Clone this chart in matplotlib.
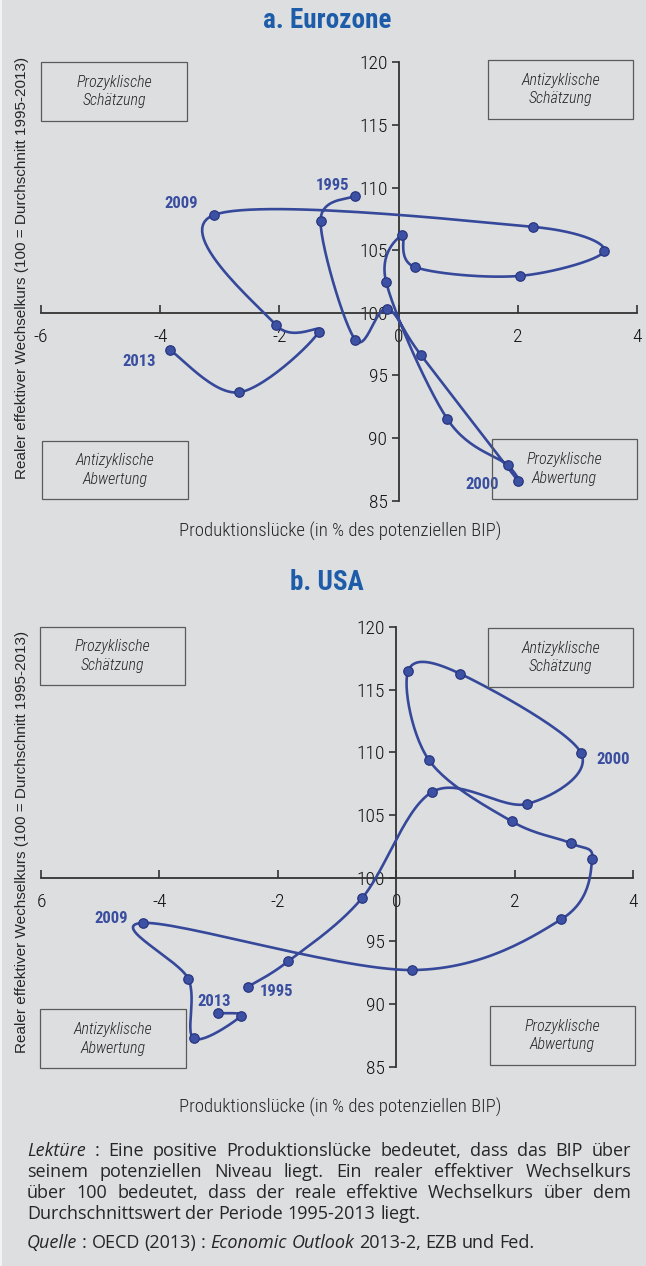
import numpy as np
import matplotlib
matplotlib.use('Agg')
import matplotlib.pyplot as plt
from matplotlib.patches import Rectangle

W, H, DPI = 646, 1266, 100

BG        = '#dcdee0'
LINE      = '#36489a'
MARK      = '#3d51a4'
MARK_EDGE = '#27367f'
TITLE     = '#1d5ca8'
YEAR      = '#3a4ea0'
AXIS      = '#333333'
TEXT      = '#262626'
BOX       = '#5a5a5a'

NARROW = ['Roboto Condensed', 'Archivo Narrow', 'DejaVu Sans']
WIDE   = ['Liberation Sans', 'DejaVu Sans']
NOTE   = ['Open Sans', 'Liberation Sans', 'DejaVu Sans']
plt.rcParams['font.family'] = NARROW

# Jahre 1995-2013
years = list(range(1995, 2014))

# Eurozone: Produktionslücke (% BIP) und realer effektiver Wechselkurs
ez_gap  = [-0.73, -1.31, -0.73, -0.20, 0.37, 2.01, 1.83, 0.82, -0.21, 0.06,
           0.28, 2.04, 3.45, 2.26, -3.10, -2.06, -1.34, -2.68, -3.83]
ez_reer = [109.35, 107.31, 97.86, 100.32, 96.66, 86.55, 87.83, 91.50, 102.48, 106.19,
           103.64, 102.95, 104.94, 106.86, 107.81, 99.04, 98.48, 93.65, 97.00]

# USA
us_gap  = [-2.51, -1.82, -0.58, 0.61, 2.21, 3.12, 1.08, 0.20, 0.55, 1.95,
           2.95, 3.31, 2.79, 0.27, -4.27, -3.51, -3.42, -2.62, -3.01]
us_reer = [91.34, 93.40, 98.39, 106.86, 105.90, 109.97, 116.26, 116.47, 109.41, 104.52,
           102.77, 101.55, 96.73, 92.69, 96.44, 91.97, 87.25, 89.04, 89.25]

x_ticks = [-6, -4, -2, 0, 2, 4]
ez_xticklabels = ['-6', '-4', '-2', '0', '2', '4']
us_xticklabels = ['6', '-4', '-2', '0', '2', '4']
y_ticks = [85, 90, 95, 100, 105, 110, 115, 120]

ez_labelled = {1995: (-23, 10), 2009: (-33, 11), 2013: (-31, -11), 2000: (-36, -3)}
us_labelled = {2000: (32, -7), 2009: (-32, 4), 1995: (29, -5), 2013: (-4, 12)}


def fx(px):
    return px / W


def fy(py):
    return 1 - py / H


def smooth_path(ax, xs, ys, n=30, limit=0.6):
    # Bezier-Glättung wie bei Excel-Linien, in Pixelkoordinaten gerechnet;
    # Kontrollpunkte werden bei kurzen Abschnitten gekürzt
    pts = ax.transData.transform(np.column_stack([xs, ys]))
    P = np.vstack([pts[0], pts, pts[-1]])
    t = np.linspace(0, 1, n)[1:, None]
    out = [pts[:1]]
    for i in range(1, len(P) - 2):
        p0, p1, p2, p3 = P[i - 1], P[i], P[i + 1], P[i + 2]
        seg = np.hypot(*(p2 - p1))
        d1 = (p2 - p0) / 6
        d2 = (p3 - p1) / 6
        for d in (d1, d2):
            n_d = np.hypot(*d)
            if n_d > limit * seg:
                d *= limit * seg / n_d
        c1, c2 = p1 + d1, p2 - d2
        out.append((1 - t) ** 3 * p1 + 3 * (1 - t) ** 2 * t * c1
                   + 3 * (1 - t) * t ** 2 * c2 + t ** 3 * p2)
    return ax.transData.inverted().transform(np.vstack(out))


def quad_box(x0, y0, x1, y1, line1, line2):
    fig.patches.append(Rectangle((fx(x0), fy(y1)), fx(x1) - fx(x0), fy(y0) - fy(y1),
                                 transform=fig.transFigure, facecolor='none',
                                 edgecolor=BOX, linewidth=0.9))
    cx, cy = (x0 + x1) / 2, (y0 + y1) / 2
    for txt, dy in ((line1, -9.5), (line2, 9.5)):
        fig.text(fx(cx), fy(cy + dy), txt, ha='center', va='center',
                 style='italic', fontweight='light', fontsize=11.5, color=TEXT)


def panel(px_box, title, title_y, gap, reer, xticklabels, labelled,
          boxes, ylab_y, xlab_y):
    left, top, right, bottom = px_box
    ax = fig.add_axes([fx(left), fy(bottom), fx(right) - fx(left), fy(top) - fy(bottom)])
    ax.set_facecolor('none')
    ax.set_xlim(-6, 4)
    ax.set_ylim(85, 120)
    for s in ['top', 'right']:
        ax.spines[s].set_visible(False)
    ax.spines['left'].set_position(('data', 0))
    ax.spines['bottom'].set_position(('data', 100))
    for s in ['left', 'bottom']:
        ax.spines[s].set_color(AXIS)
        ax.spines[s].set_linewidth(1.3)
    ax.set_xticks(x_ticks)
    ax.set_xticklabels(xticklabels, fontweight='light')
    ax.set_yticks(y_ticks)
    ax.set_yticklabels([str(v) for v in y_ticks], fontweight='light')
    ax.tick_params(axis='x', direction='in', length=6, width=1.2, pad=11,
                   labelsize=14, colors=AXIS, labelcolor='#111111')
    ax.tick_params(axis='y', direction='out', length=5, width=1.2, pad=3,
                   labelsize=14, colors=AXIS, labelcolor='#111111')

    cx, cy = smooth_path(ax, gap, reer).T
    ax.plot(cx, cy, color=LINE, linewidth=1.9, solid_capstyle='round', clip_on=False, zorder=3)
    ax.plot(gap, reer, 'o', color=MARK, markeredgecolor=MARK_EDGE, markeredgewidth=0.9,
            markersize=6.8, clip_on=False, zorder=4)

    for yr, (dx, dy) in labelled.items():
        i = years.index(yr)
        ax.annotate(str(yr), (gap[i], reer[i]), xytext=(dx, dy), textcoords='offset pixels',
                    ha='center', va='center', fontsize=12, fontweight='bold', color=YEAR)

    fig.text(fx(327), fy(title_y), title, ha='center', va='center',
             fontsize=19.5, fontweight='bold', color=TITLE)
    fig.text(fx(22), fy(ylab_y), 'Realer effektiver Wechselkurs (100 = Durchschnitt 1995-2013)',
             rotation=90, ha='center', va='center', family=WIDE, fontsize=11, color=TEXT)
    fig.text(fx(340), fy(xlab_y), 'Produktionslücke (in % des potenziellen BIP)',
             ha='center', va='center', fontsize=13.5, fontweight='light', color=TEXT)
    for b in boxes:
        quad_box(*b)
    return ax


def text_line(y, parts, x0, x1, justify, size=13):
    # eine Zeile Wort für Wort setzen, auf Wunsch im Blocksatz
    r = fig.canvas.get_renderer()
    objs = [fig.text(0, fy(y), w, style=s, family=NOTE, fontsize=size, color=TEXT,
                     va='baseline') for w, s in parts]
    widths = [o.get_window_extent(r).width for o in objs]
    if justify and len(objs) > 1:
        sp = (x1 - x0 - sum(widths)) / (len(objs) - 1)
    else:
        a = fig.text(0, 0, 'x x', family=NOTE, fontsize=size)
        b = fig.text(0, 0, 'xx', family=NOTE, fontsize=size)
        sp = a.get_window_extent(r).width - b.get_window_extent(r).width
        a.remove(); b.remove()
    x = x0
    for o, w in zip(objs, widths):
        o.set_x(fx(x))
        x += w + sp


def words(s, style='normal'):
    return [(w, style) for w in s.split()]


fig = plt.figure(figsize=(W / DPI, H / DPI), dpi=DPI)
fig.patch.set_facecolor(BG)
fig.patches.append(Rectangle((0, 0), fx(2), 1, transform=fig.transFigure,
                             facecolor='#f2f3f4', edgecolor='none'))

panel((41, 62.3, 637, 500.7), 'a. Eurozone', 21, ez_gap, ez_reer, ez_xticklabels,
      ez_labelled,
      [(41, 62, 187, 121, 'Prozyklische', 'Schätzung'),
       (488, 60, 633, 119, 'Antizyklische', 'Schätzung'),
       (42, 441, 188, 499, 'Antizyklische', 'Abwertung'),
       (492, 439, 637, 499, 'Prozyklische', 'Abwertung')],
      268, 531)

panel((41, 626.7, 633, 1066.7), 'b. USA', 583, us_gap, us_reer, us_xticklabels,
      us_labelled,
      [(40, 627, 185, 685, 'Prozyklische', 'Schätzung'),
       (488, 628, 633, 687, 'Antizyklische', 'Schätzung'),
       (40, 1009, 186, 1068, 'Antizyklische', 'Abwertung'),
       (490, 1006, 635, 1065, 'Prozyklische', 'Abwertung')],
      842, 1107)

# Anmerkungen unter den Grafiken (Grundlinien)
X0, X1 = 27, 631
text_line(1156, [('Lektüre', 'italic')] + words(': Eine positive Produktionslücke bedeutet, dass das BIP über'), X0, X1, True)
text_line(1177, words('seinem potenziellen Niveau liegt. Ein realer effektiver Wechselkurs'), X0, X1, True)
text_line(1198, words('über 100 bedeutet, dass der reale effektive Wechselkurs über dem'), X0, X1, True)
text_line(1219, words('Durchschnittswert der Periode 1995-2013 liegt.'), X0, X1, False)
text_line(1248, [('Quelle', 'italic')] + words(': OECD (2013) :') + words('Economic Outlook', 'italic')
          + words('2013-2, EZB und Fed.'), X0, X1, False)

fig.savefig('out.png', dpi=DPI, facecolor=BG)
